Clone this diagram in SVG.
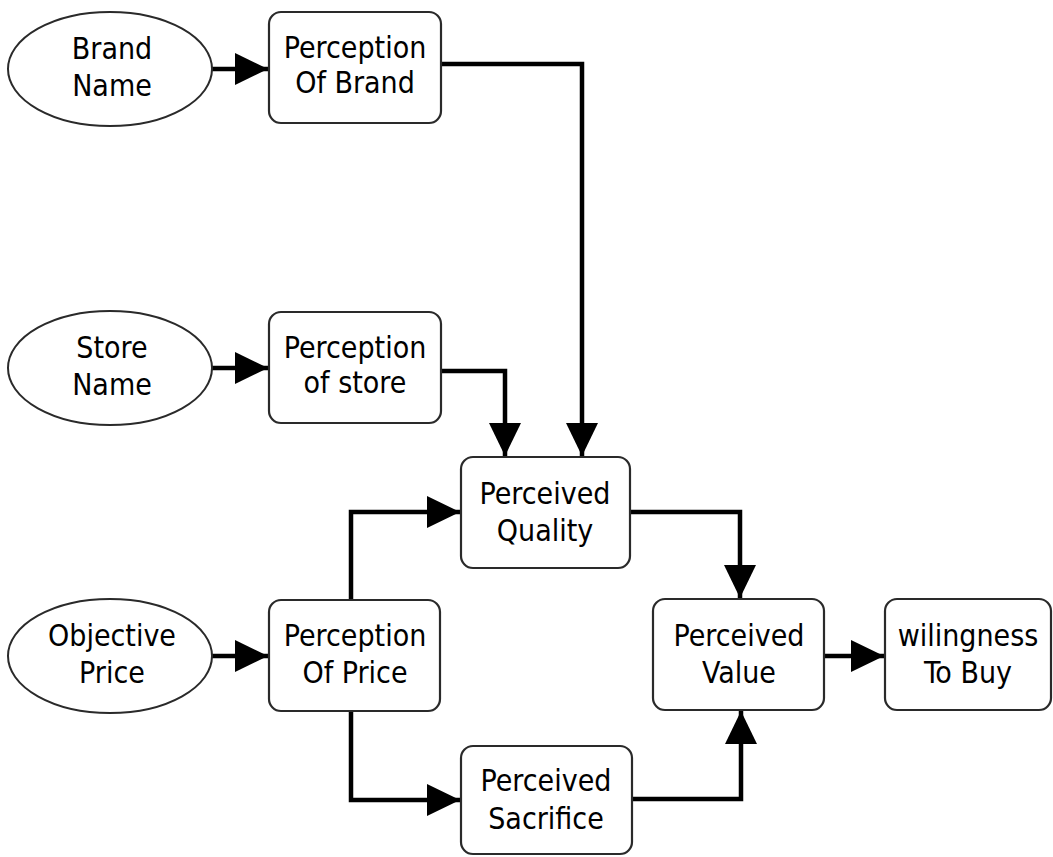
<svg xmlns="http://www.w3.org/2000/svg" width="1053" height="857" viewBox="0 0 1053 857">
  <style>
    .node rect { fill: #fff; stroke: #2a2a2a; stroke-width: 2.2; }
    .node ellipse { fill: #fff; stroke: #2a2a2a; stroke-width: 2; }
    .node text { font-family: "DejaVu Sans Condensed", "DejaVu Sans", sans-serif; font-stretch: condensed; font-size: 30px; fill: #000; text-anchor: middle; }
    .edge { fill: none; stroke: #000; stroke-width: 4.5; marker-end: url(#arrow); }
  </style>
  <defs>
    <marker id="arrow" markerUnits="userSpaceOnUse" markerWidth="34" markerHeight="34" refX="33" refY="16" orient="auto">
      <path d="M0,0 L33,16 L0,32 Z" fill="#000"/>
    </marker>
  </defs>
  <rect width="1053" height="857" fill="#fff"/>

  <g id="connectors">
    <path class="edge" d="M212,69 H268"/>
    <path class="edge" d="M441,64 H582 V456"/>
    <path class="edge" d="M212,368 H268"/>
    <path class="edge" d="M441,371 H505 V456"/>
    <path class="edge" d="M212,656 H268"/>
    <path class="edge" d="M351,600 V512 H460"/>
    <path class="edge" d="M351,711 V800 H460"/>
    <path class="edge" d="M630,512 H740 V598"/>
    <path class="edge" d="M632,799 H741 V711"/>
    <path class="edge" d="M824,656 H884"/>
  </g>

  <g id="brand-name" class="node">
    <ellipse cx="110" cy="69" rx="102" ry="57"/>
    <text x="112" y="59">Brand</text>
    <text x="112" y="96">Name</text>
  </g>
  <g id="perception-of-brand" class="node">
    <rect x="269" y="12" width="172" height="111" rx="12"/>
    <text x="355" y="58">Perception</text>
    <text x="355" y="93">Of Brand</text>
  </g>

  <g id="store-name" class="node">
    <ellipse cx="110" cy="368" rx="102" ry="57"/>
    <text x="112" y="358">Store</text>
    <text x="112" y="395">Name</text>
  </g>
  <g id="perception-of-store" class="node">
    <rect x="269" y="312" width="172" height="111" rx="12"/>
    <text x="355" y="358">Perception</text>
    <text x="355" y="393">of store</text>
  </g>

  <g id="perceived-quality" class="node">
    <rect x="461" y="457" width="169" height="111" rx="12"/>
    <text x="545" y="504">Perceived</text>
    <text x="545" y="541">Quality</text>
  </g>

  <g id="objective-price" class="node">
    <ellipse cx="110" cy="656" rx="102" ry="57"/>
    <text x="112" y="646">Objective</text>
    <text x="112" y="683">Price</text>
  </g>
  <g id="perception-of-price" class="node">
    <rect x="269" y="600" width="171" height="111" rx="12"/>
    <text x="355" y="646">Perception</text>
    <text x="355" y="683">Of Price</text>
  </g>

  <g id="perceived-sacrifice" class="node">
    <rect x="461" y="746" width="171" height="108" rx="12"/>
    <text x="546" y="791">Perceived</text>
    <text x="546" y="829">Sacrifice</text>
  </g>

  <g id="perceived-value" class="node">
    <rect x="653" y="599" width="171" height="111" rx="12"/>
    <text x="739" y="646">Perceived</text>
    <text x="739" y="683">Value</text>
  </g>

  <g id="willingness-to-buy" class="node">
    <rect x="885" y="599" width="166" height="111" rx="12"/>
    <text x="968" y="646">wilingness</text>
    <text x="968" y="683">To Buy</text>
  </g>
</svg>
